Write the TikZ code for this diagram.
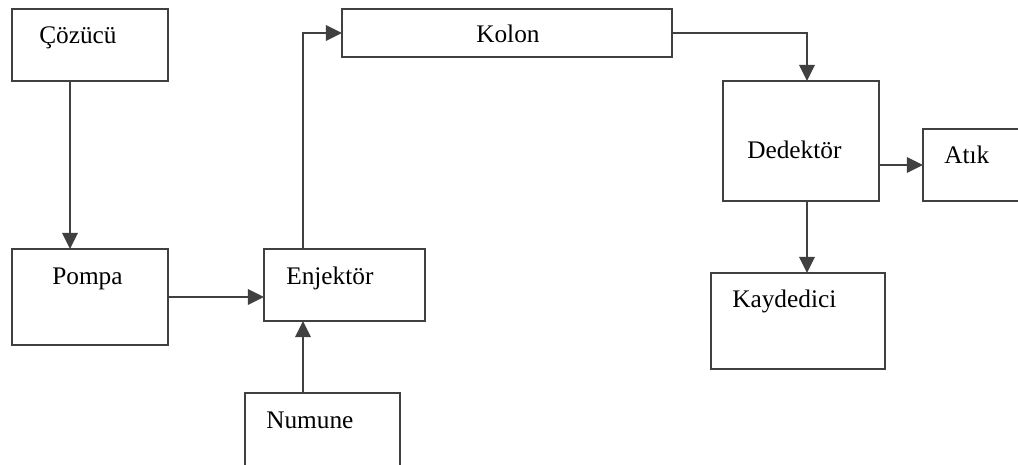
\documentclass[tikz,border=0pt]{standalone}
\usepackage{fontspec}
\setmainfont{Liberation Serif}
\usetikzlibrary{arrows.meta, positioning}

\begin{document}
\begin{tikzpicture}[x=0.025cm, y=-0.025cm,
    box/.style={draw=black!75, line width=1.4pt, rectangle, inner sep=0pt, outer sep=0pt},
    lbl/.style={anchor=base west, inner sep=0pt, font=\fontsize{18}{20}\selectfont},
    arr/.style={draw=black!75, line width=1.9pt, -{Triangle[length=0.4cm, width=0.38cm]}}]
    \useasboundingbox (0,0) rectangle (1018,465);
    \clip (0,0) rectangle (1018,465);

    \node[box, minimum width=3.9cm, minimum height=1.8cm] (cozucu) at (90,45) {};
    \node[box, minimum width=3.9cm, minimum height=2.4cm] (pompa) at (90,297) {};
    \node[box, minimum width=4.025cm, minimum height=1.8cm] (enjektor) at (344.5,285) {};
    \node[box, minimum width=3.875cm, minimum height=1.925cm] (numune) at (322.5,431.5) {};
    \node[box, minimum width=8.25cm, minimum height=1.2cm] (kolon) at (507,33) {};
    \node[box, minimum width=3.9cm, minimum height=3cm] (dedektor) at (801,141) {};
    \node[box, minimum width=2.675cm, minimum height=1.8cm] (atik) at (976.5,165) {};
    \node[box, minimum width=4.35cm, minimum height=2.4cm] (kaydedici) at (798,321) {};

    \node[lbl] (cozucu-t) at (39,44) {Çözücü};
    \node[lbl] (pompa-t) at (52,284) {Pompa};
    \node[lbl] (enjektor-t) at (286,284) {Enjektör};
    \node[lbl] (numune-t) at (266,428) {Numune};
    \node[lbl] (kolon-t) at (476,43) {Kolon};
    \node[lbl] (dedektor-t) at (747,159) {Dedektör};
    \node[lbl] (atik-t) at (944,164) {Atık};
    \node[lbl] (kaydedici-t) at (732,307) {Kaydedici};

    \coordinate (c1) at (70,0);
    \coordinate (c2) at (303,0);
    \coordinate (c3) at (807,0);

    \draw[arr] (cozucu.south -| c1) -- (pompa.north -| c1);
    \draw[arr] (pompa.east) -- (pompa.east -| enjektor.west);
    \draw[arr] (numune.north -| c2) -- (enjektor.south -| c2);
    \draw[arr] (enjektor.north -| c2) |- (kolon.west);
    \draw[arr] (kolon.east) -| (dedektor.north -| c3);
    \draw[arr] (dedektor.east |- atik.west) -- (atik.west);
    \draw[arr] (dedektor.south -| c3) -- (kaydedici.north -| c3);
\end{tikzpicture}
\end{document}
